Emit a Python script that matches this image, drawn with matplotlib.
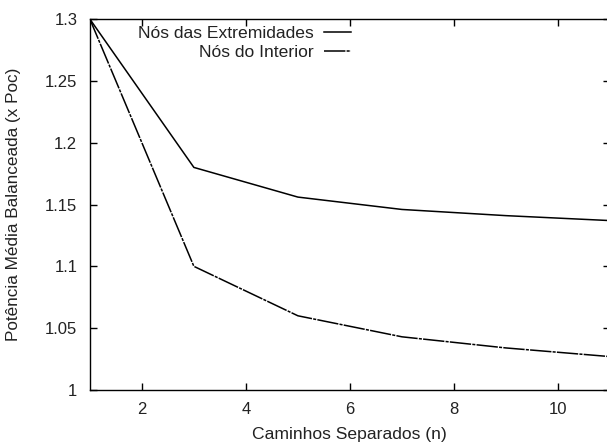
import matplotlib.pyplot as plt

plt.rcParams['font.family'] = ['Liberation Sans', 'DejaVu Sans']

# data
n_caminhos = [1, 3, 5, 7, 9, 11]
extremidades = [1.300, 1.180, 1.156, 1.146, 1.141, 1.137]
interior = [1.300, 1.100, 1.060, 1.043, 1.034, 1.027]
y_ticks = [1, 1.05, 1.1, 1.15, 1.2, 1.25, 1.3]
x_ticks = [2, 4, 6, 8, 10]

fig = plt.figure(figsize=(6.07, 4.48), dpi=100)
ax = fig.add_axes([0.148, 0.1295, 0.857, 0.828])

ax.plot(n_caminhos, extremidades, color='black', lw=1.1, label='Nós das Extremidades')
ax.plot(n_caminhos, interior, color='black', lw=1.1, dashes=(14, 0.8, 2, 0.8),
        label='Nós do Interior')

ax.set_xlim(1, 11)
ax.set_ylim(1, 1.3)
ax.set_xticks(x_ticks)
ax.set_yticks(y_ticks)
ax.set_yticklabels([f'{v:g}' for v in y_ticks])
ax.tick_params(direction='in', length=5, width=1, top=True, right=True,
               labelsize=12, labelcolor='#222222')
ax.tick_params(axis='y', pad=9)
ax.tick_params(axis='x', pad=8.5)
for s in ax.spines.values():
    s.set_linewidth(1)

ax.set_xlabel('Caminhos Separados (n)', fontsize=12.6, color='#222222', labelpad=7)
ax.set_ylabel('Potência Média Balanceada (x Poc)', fontsize=12.3, color='#222222')
ax.yaxis.set_label_coords(-0.132, 0.5)

leg = ax.legend(loc='upper right', bbox_to_anchor=(351 / 607, 1 - 26 / 448),
                bbox_transform=fig.transFigure, frameon=False, markerfirst=False,
                fontsize=12.6, handlelength=1.55, handletextpad=0.57,
                labelspacing=0.2, borderpad=0, borderaxespad=0)
for t in leg.get_texts():
    t.set_color('#222222')

fig.savefig('out.png', dpi=100)
